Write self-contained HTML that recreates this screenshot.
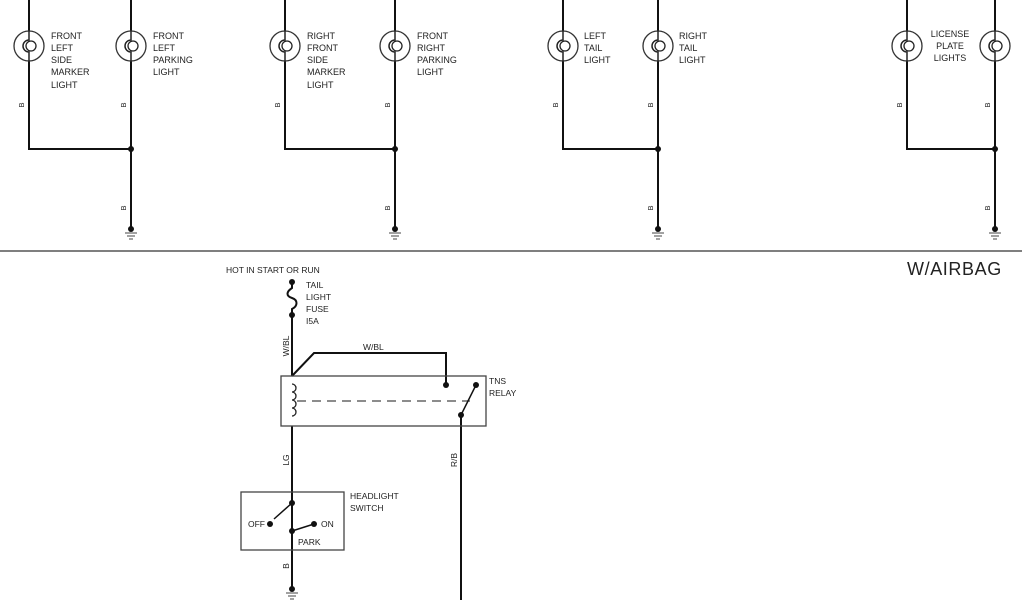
<!DOCTYPE html>
<html><head><meta charset="utf-8"><style>
html,body{margin:0;padding:0;background:#fff;}
svg{display:block}
text{font-family:"Liberation Sans","DejaVu Sans",sans-serif;fill:#222;}
</style></head><body>
<svg width="1024" height="600" viewBox="0 0 1024 600" xmlns="http://www.w3.org/2000/svg">
<defs>
<g id="bulb">
  <circle cx="0" cy="0" r="15" fill="#fff" stroke="#333" stroke-width="1.3"/>
  <path d="M0,-15 L0,-6 A5,5 0 1 0 0,6 L0,15" fill="none" stroke="#222" stroke-width="1.5"/>
  <circle cx="2" cy="0" r="5" fill="none" stroke="#222" stroke-width="1.3"/>
</g>
<g id="gnd">
  <circle cx="0" cy="0" r="3" fill="#111"/>
  <line x1="-6" y1="4" x2="6" y2="4" stroke="#444" stroke-width="1"/>
  <line x1="-4" y1="7" x2="4" y2="7" stroke="#444" stroke-width="1"/>
  <line x1="-2" y1="10" x2="2" y2="10" stroke="#444" stroke-width="1"/>
</g>
</defs>
<g stroke="#111" stroke-width="2" fill="none">
  <path d="M29,0 V149 H131 M131,0 V229"/>
  <path d="M285,0 V149 H395 M395,0 V229"/>
  <path d="M563,0 V149 H658 M658,0 V229"/>
  <path d="M907,0 V149 H995 M995,0 V229"/>
</g>
<use href="#bulb" x="29" y="46"/><use href="#bulb" x="131" y="46"/>
<use href="#bulb" x="285" y="46"/><use href="#bulb" x="395" y="46"/>
<use href="#bulb" x="563" y="46"/><use href="#bulb" x="658" y="46"/>
<use href="#bulb" x="907" y="46"/><use href="#bulb" x="995" y="46"/>
<g fill="#111"><circle cx="131" cy="149" r="3"/><circle cx="395" cy="149" r="3"/><circle cx="658" cy="149" r="3"/><circle cx="995" cy="149" r="3"/></g>
<use href="#gnd" x="131" y="229"/><use href="#gnd" x="395" y="229"/><use href="#gnd" x="658" y="229"/><use href="#gnd" x="995" y="229"/>
<g font-size="7.5">
<text transform="translate(24,105) rotate(-90)" text-anchor="middle">B</text>
<text transform="translate(126,105) rotate(-90)" text-anchor="middle">B</text>
<text transform="translate(126,208) rotate(-90)" text-anchor="middle">B</text>
<text transform="translate(280,105) rotate(-90)" text-anchor="middle">B</text>
<text transform="translate(390,105) rotate(-90)" text-anchor="middle">B</text>
<text transform="translate(390,208) rotate(-90)" text-anchor="middle">B</text>
<text transform="translate(558,105) rotate(-90)" text-anchor="middle">B</text>
<text transform="translate(653,105) rotate(-90)" text-anchor="middle">B</text>
<text transform="translate(653,208) rotate(-90)" text-anchor="middle">B</text>
<text transform="translate(902,105) rotate(-90)" text-anchor="middle">B</text>
<text transform="translate(990,105) rotate(-90)" text-anchor="middle">B</text>
<text transform="translate(990,208) rotate(-90)" text-anchor="middle">B</text>
</g>
<g font-size="9">
<text x="51" y="39">FRONT</text><text x="51" y="51">LEFT</text><text x="51" y="63">SIDE</text><text x="51" y="75">MARKER</text><text x="51" y="88">LIGHT</text>
<text x="153" y="39">FRONT</text><text x="153" y="51">LEFT</text><text x="153" y="63">PARKING</text><text x="153" y="75">LIGHT</text>
<text x="307" y="39">RIGHT</text><text x="307" y="51">FRONT</text><text x="307" y="63">SIDE</text><text x="307" y="75">MARKER</text><text x="307" y="88">LIGHT</text>
<text x="417" y="39">FRONT</text><text x="417" y="51">RIGHT</text><text x="417" y="63">PARKING</text><text x="417" y="75">LIGHT</text>
<text x="584" y="39">LEFT</text><text x="584" y="51">TAIL</text><text x="584" y="63">LIGHT</text>
<text x="679" y="39">RIGHT</text><text x="679" y="51">TAIL</text><text x="679" y="63">LIGHT</text>
<text x="950" y="37" text-anchor="middle">LICENSE</text><text x="950" y="49" text-anchor="middle">PLATE</text><text x="950" y="61" text-anchor="middle">LIGHTS</text>
</g>
<line x1="0" y1="251" x2="1022" y2="251" stroke="#333" stroke-width="1.3"/>
<text x="907" y="275" font-size="18" letter-spacing="0.6">W/AIRBAG</text>

<text x="226" y="273" font-size="8.5">HOT IN START OR RUN</text>
<g font-size="8.5"><text x="306" y="288">TAIL</text><text x="306" y="300">LIGHT</text><text x="306" y="312">FUSE</text><text x="306" y="324">I5A</text></g>
<g stroke="#111" stroke-width="2" fill="none">
  <path d="M292,282 V288 C286,292 286,296 292,298 C298,300 298,306 292,309 V315"/>
  <path d="M292,315 V376"/>
  <path d="M292,376 L314,353 H446 V385"/>
  <path d="M292,426 V590"/>
  <path d="M461,415 V600"/>
</g>
<rect x="281" y="376" width="205" height="50" fill="none" stroke="#444" stroke-width="1.3"/>
<path d="M292,384 a4,4 0 0 1 0,8 a4,4 0 0 1 0,8 a4,4 0 0 1 0,8 a4,4 0 0 1 0,8" fill="none" stroke="#222" stroke-width="1.3"/>
<line x1="297" y1="401" x2="470" y2="401" stroke="#666" stroke-width="1.5" stroke-dasharray="9,6"/>
<line x1="461" y1="415" x2="476" y2="385" stroke="#111" stroke-width="1.5"/>
<g fill="#111"><circle cx="292" cy="282" r="3"/><circle cx="292" cy="315" r="3"/><circle cx="446" cy="385" r="3"/><circle cx="476" cy="385" r="3"/><circle cx="461" cy="415" r="3"/></g>
<g font-size="8.5"><text x="489" y="384">TNS</text><text x="489" y="396">RELAY</text>
<text x="363" y="350">W/BL</text></g>
<g font-size="8.5">
<text transform="translate(289,346) rotate(-90)" text-anchor="middle">W/BL</text>
<text transform="translate(289,460) rotate(-90)" text-anchor="middle">LG</text>
<text transform="translate(457,460) rotate(-90)" text-anchor="middle">R/B</text>
<text transform="translate(289,566) rotate(-90)" text-anchor="middle">B</text>
</g>
<rect x="241" y="492" width="103" height="58" fill="none" stroke="#444" stroke-width="1.3"/>
<line x1="292" y1="503" x2="274" y2="519" stroke="#111" stroke-width="1.5"/>
<line x1="292" y1="531" x2="314" y2="524" stroke="#111" stroke-width="1.5"/>
<g fill="#111"><circle cx="292" cy="503" r="3"/><circle cx="270" cy="524" r="3"/><circle cx="292" cy="531" r="3"/><circle cx="314" cy="524" r="3"/></g>
<g font-size="8.5"><text x="248" y="527">OFF</text><text x="321" y="527">ON</text><text x="298" y="545">PARK</text>
<text x="350" y="499">HEADLIGHT</text><text x="350" y="511">SWITCH</text></g>
<use href="#gnd" x="292" y="589"/>
</svg>
</body></html>
